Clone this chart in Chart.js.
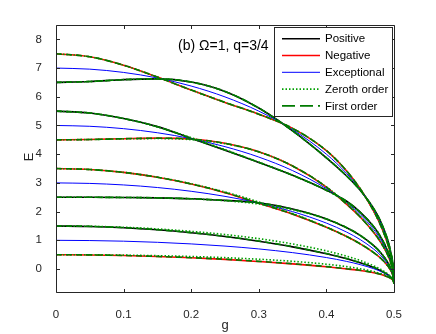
<!DOCTYPE html>
<html><head><meta charset="utf-8">
<script src="https://cdn.jsdelivr.net/npm/chart.js@4/dist/chart.umd.min.js"></script>
<style>html,body{margin:0;padding:0;background:#fff}canvas{display:block}</style>
</head><body>
<canvas id="c" width="436" height="334"></canvas>
<script>
// coupling values g
const gVals = [0,0.05,0.1,0.15,0.2,0.25,0.3,0.35,0.4,0.43,0.45,0.47,0.48,0.49,0.495,0.499,0.5];
// exact: positive parity
const pos15 = [1.5,1.484,1.440,1.367,1.263,1.132,0.968,0.773,0.532,0.358,0.218,0.051,-0.056,-0.187,-0.282,-0.407,-0.5];
const pos25 = [2.5,2.499,2.493,2.480,2.450,2.390,2.310,2.090,1.745,1.441,1.173,0.815,0.577,0.259,0.032,-0.267,-0.5];
const pos55 = [5.5,5.434,5.244,4.960,4.550,4.140,3.715,3.265,2.745,2.360,1.980,1.475,1.132,0.663,0.321,-0.138,-0.5];
const pos65 = [6.5,6.531,6.597,6.624,6.514,6.186,5.607,4.813,3.875,3.241,2.744,2.103,1.666,1.058,0.606,-0.009,-0.5];
// exact: negative parity
const neg05 = [0.5,0.491,0.470,0.435,0.391,0.336,0.262,0.179,0.078,0.003,-0.050,-0.128,-0.184,-0.266,-0.325,-0.413,-0.5];
const neg35 = [3.5,3.466,3.366,3.195,2.960,2.660,2.290,1.910,1.455,1.131,0.878,0.574,0.383,0.134,-0.045,-0.291,-0.5];
const neg45 = [4.5,4.511,4.540,4.560,4.530,4.380,4.085,3.590,2.855,2.250,1.810,1.275,0.948,0.526,0.231,-0.167,-0.5];
const neg75 = [7.5,7.393,7.100,6.685,6.234,5.804,5.393,4.900,4.125,3.414,2.794,2.015,1.534,0.927,0.510,-0.043,-0.5];
// exceptional
const exc1 = [1.0,0.992,0.970,0.931,0.875,0.799,0.700,0.571,0.400,0.265,0.154,0.012,-0.080,-0.202,-0.288,-0.405,-0.5];
const exc3 = [3.0,2.982,2.929,2.839,2.708,2.531,2.300,2.000,1.600,1.286,1.026,0.694,0.480,0.196,-0.006,-0.279,-0.5];
const exc5 = [5.0,4.972,4.889,4.747,4.541,4.263,3.900,3.428,2.800,2.307,1.897,1.376,1.040,0.594,0.276,-0.152,-0.5];
const exc7 = [7.0,6.962,6.848,6.655,6.374,5.995,5.500,4.856,4.000,3.327,2.769,2.059,1.600,0.992,0.558,-0.026,-0.5];
// zeroth order
const zer05 = [0.5,0.496,0.485,0.465,0.436,0.396,0.342,0.269,0.168,0.083,0.010,-0.088,-0.154,-0.246,-0.315,-0.413,-0.5];
const zer15 = [1.5,1.489,1.455,1.397,1.313,1.202,1.058,0.873,0.632,0.448,0.298,0.111,-0.006,-0.157,-0.262,-0.397,-0.5];
const zer25 = [2.5,2.499,2.493,2.478,2.445,2.380,2.264,2.067,1.739,1.441,1.173,0.815,0.577,0.259,0.032,-0.267,-0.5];
const zer35 = [3.5,3.466,3.366,3.200,2.971,2.682,2.336,1.932,1.461,1.131,0.878,0.574,0.383,0.134,-0.045,-0.291,-0.5];
const zer45 = [4.5,4.511,4.534,4.545,4.505,4.367,4.079,3.590,2.859,2.283,1.826,1.280,0.948,0.526,0.231,-0.167,-0.5];
const zer55 = [5.5,5.434,5.244,4.949,4.577,4.159,3.721,3.265,2.741,2.330,1.969,1.472,1.132,0.663,0.321,-0.138,-0.5];
const zer65 = [6.5,6.531,6.597,6.624,6.514,6.186,5.607,4.813,3.875,3.241,2.744,2.103,1.666,1.058,0.606,-0.009,-0.5];
const zer75 = [7.5,7.393,7.100,6.685,6.234,5.804,5.393,4.900,4.125,3.414,2.794,2.015,1.534,0.927,0.510,-0.043,-0.5];
// first order
const fst05 = [0.5,0.492,0.472,0.438,0.395,0.340,0.268,0.185,0.085,0.010,-0.045,-0.125,-0.182,-0.264,-0.324,-0.413,-0.5];
const fst15 = [1.5,1.485,1.442,1.370,1.268,1.138,0.975,0.780,0.540,0.365,0.225,0.058,-0.050,-0.183,-0.280,-0.406,-0.5];
const fst25 = [2.5,2.499,2.493,2.480,2.450,2.390,2.305,2.088,1.745,1.441,1.173,0.815,0.577,0.259,0.032,-0.267,-0.5];
const fst35 = [3.5,3.466,3.366,3.196,2.962,2.665,2.295,1.915,1.457,1.131,0.878,0.574,0.383,0.134,-0.045,-0.291,-0.5];
const fst45 = [4.5,4.511,4.539,4.558,4.528,4.378,4.083,3.590,2.856,2.255,1.812,1.277,0.948,0.526,0.231,-0.167,-0.5];
const fst55 = [5.5,5.434,5.244,4.958,4.555,4.145,3.717,3.265,2.744,2.355,1.978,1.474,1.132,0.663,0.321,-0.138,-0.5];
const fst65 = [6.5,6.531,6.597,6.624,6.514,6.186,5.607,4.813,3.875,3.241,2.744,2.103,1.666,1.058,0.606,-0.009,-0.5];
const fst75 = [7.5,7.393,7.100,6.685,6.234,5.804,5.393,4.900,4.125,3.414,2.794,2.015,1.534,0.927,0.510,-0.043,-0.5];

const xTicks = [0,0.1,0.2,0.3,0.4,0.5];
const yTicks = [0,1,2,3,4,5,6,7,8];
const legendLabels = ['Positive','Negative','Exceptional','Zeroth order','First order'];
const titleText = '(b) \u03A9=1, q=3/4';

const toXY = arr => gVals.map((x,i)=>({x:x,y:arr[i]}));
const styles = {
  Positive:{color:'#000000',width:1.6,dash:[],order:5},
  Negative:{color:'#ff0000',width:1.6,dash:[],order:5},
  Exceptional:{color:'#0000ff',width:1,dash:[],order:4},
  'Zeroth order':{color:'#00a000',width:1.6,dash:[1.5,2],order:2},
  'First order':{color:'#007a00',width:1.6,dash:[6,4],order:1}
};
const groups = [
  ['Positive',[pos15,pos25,pos55,pos65]],
  ['Negative',[neg05,neg35,neg45,neg75]],
  ['Exceptional',[exc1,exc3,exc5,exc7]],
  ['Zeroth order',[zer05,zer15,zer25,zer35,zer45,zer55,zer65,zer75]],
  ['First order',[fst05,fst15,fst25,fst35,fst45,fst55,fst65,fst75]]
];
const datasets = [];
groups.forEach(([name,arrs])=>{
  const s = styles[name];
  arrs.forEach(a=>datasets.push({
    label:name, data:toXY(a), borderColor:s.color, backgroundColor:s.color,
    borderWidth:s.width, borderDash:s.dash, pointRadius:0, fill:false,
    cubicInterpolationMode:'monotone', order:s.order
  }));
});

const decor = {
  id:'decor',
  afterDraw(chart){
    const {ctx, chartArea:a, scales:{x,y}} = chart;
    ctx.save();
    ctx.strokeStyle = '#262626'; ctx.lineWidth = 1;
    const L=Math.round(a.left)+0.5, R=Math.round(a.right)+0.5, T=Math.round(a.top)+0.5, B=Math.round(a.bottom)+0.5;
    ctx.beginPath();
    ctx.rect(L,T,R-L,B-T);
    const tl = 3.5;
    yTicks.forEach(v=>{const py=Math.round(y.getPixelForValue(v))+0.5; ctx.moveTo(L,py);ctx.lineTo(L+tl,py);ctx.moveTo(R,py);ctx.lineTo(R-tl,py);});
    xTicks.forEach(v=>{const px=Math.round(x.getPixelForValue(v))+0.5; ctx.moveTo(px,B);ctx.lineTo(px,B-tl);ctx.moveTo(px,T);ctx.lineTo(px,T+tl);});
    ctx.stroke();
    // title text
    ctx.fillStyle = '#000';
    ctx.font = '14px "Liberation Sans", Arial, sans-serif';
    ctx.textBaseline = 'middle'; ctx.textAlign = 'left';
    ctx.fillText(titleText, 178, 46);
    // axis titles
    ctx.fillStyle = '#262626';
    ctx.font = '13px "Liberation Sans", Arial, sans-serif';
    ctx.textAlign = 'center';
    ctx.fillText('g', 225, 325);
    ctx.save(); ctx.translate(29,157); ctx.rotate(-Math.PI/2); ctx.fillText('E',0,0); ctx.restore();
    // legend
    const lx=274.5, ly=27.5, lw=118, lh=89;
    ctx.fillStyle='#fff'; ctx.fillRect(lx,ly,lw,lh);
    ctx.strokeStyle='#262626'; ctx.lineWidth=1; ctx.strokeRect(lx,ly,lw,lh);
    ctx.font = '11.5px "Liberation Sans", Arial, sans-serif';
    ctx.textAlign='left'; ctx.textBaseline='middle';
    legendLabels.forEach((lab,i)=>{
      const s=styles[lab]; const yy=38.7+i*16.8;
      ctx.strokeStyle=s.color; ctx.lineWidth=s.width; ctx.setLineDash(s.dash.length? (lab==='First order'?[13,5]:s.dash):[]);
      ctx.beginPath(); ctx.moveTo(282,yy); ctx.lineTo(320,yy); ctx.stroke();
      ctx.setLineDash([]);
      ctx.fillStyle='#000'; ctx.fillText(lab,325,yy+0.5);
    });
    ctx.restore();
  }
};

new Chart(document.getElementById('c'), {
  type:'line',
  data:{datasets},
  options:{
    responsive:false, animation:false, devicePixelRatio:1,
    layout:{padding:{left:0,top:25,right:42,bottom:0}},
    plugins:{legend:{display:false}, tooltip:{enabled:false}},
    scales:{
      x:{type:'linear', min:0, max:0.5,
        afterBuildTicks:s=>{s.ticks = xTicks.map(v=>({value:v}));},
        afterFit:s=>{s.height=42;},
        grid:{display:false}, border:{display:false},
        ticks:{padding:8, color:'#262626', font:{family:'"Liberation Sans", Arial, sans-serif', size:11.5},
          callback:v=>String(+(+v).toFixed(1)), maxRotation:0}},
      y:{type:'linear', min:-0.8, max:8.5,
        afterBuildTicks:s=>{s.ticks = yTicks.map(v=>({value:v}));},
        afterFit:s=>{s.width=56;},
        grid:{display:false}, border:{display:false},
        ticks:{padding:6, color:'#262626', font:{family:'"Liberation Sans", Arial, sans-serif', size:11.5},
          callback:v=>String(v)}}
    }
  },
  plugins:[decor]
});
</script>
</body></html>
